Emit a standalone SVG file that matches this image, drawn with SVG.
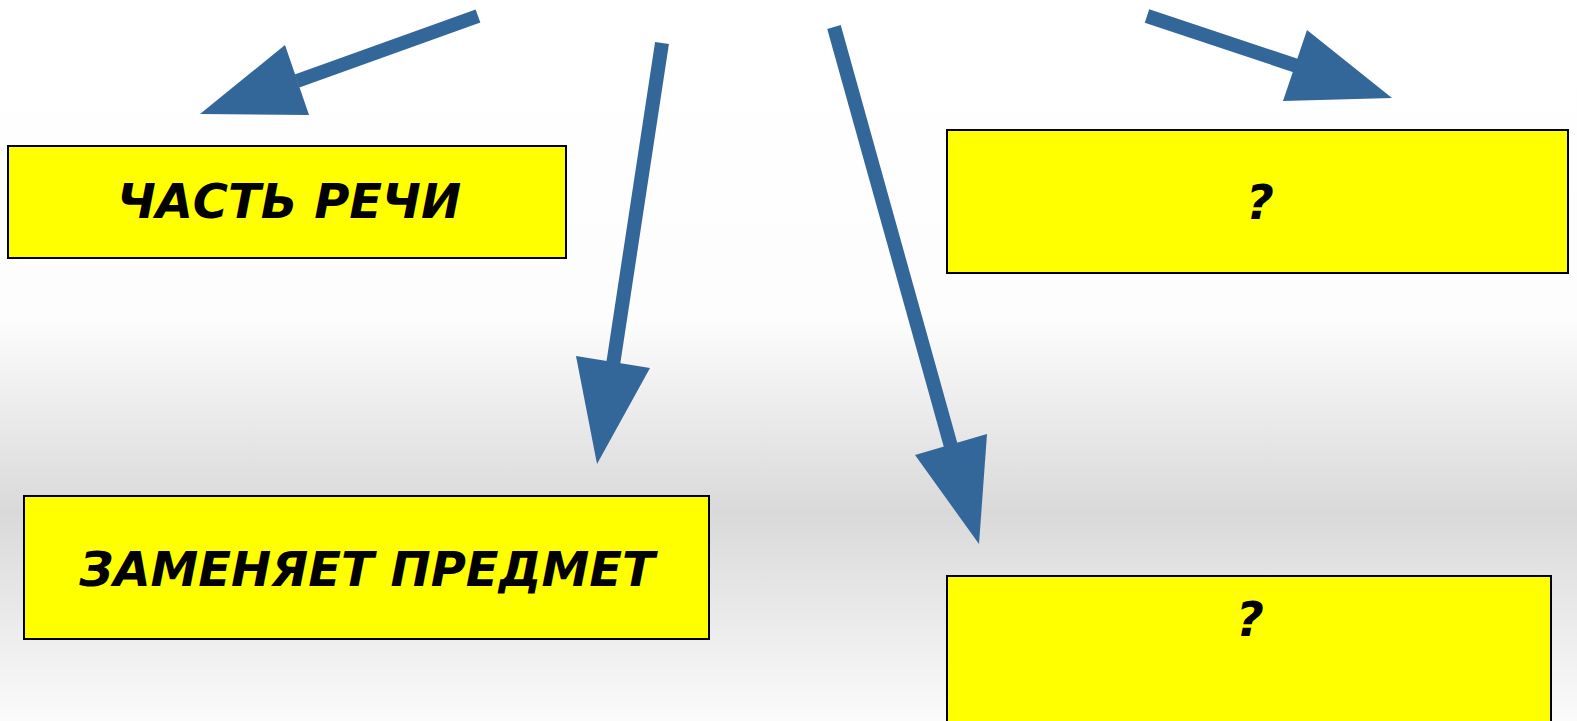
<svg xmlns="http://www.w3.org/2000/svg" width="1577" height="721" viewBox="0 0 1577 721">
<defs>
<linearGradient id="bg" x1="0" y1="0" x2="0" y2="1">
<stop offset="0" stop-color="#ffffff"/>
<stop offset="0.44" stop-color="#fdfdfd"/>
<stop offset="0.71" stop-color="#d9d9d9"/>
<stop offset="1" stop-color="#fbfbfb"/>
</linearGradient>
<style>
.box{fill:#ffff00;stroke:#000;stroke-width:2}
.lbl{font-family:"DejaVu Sans",sans-serif;font-weight:bold;font-style:italic;font-size:48px;fill:#000;text-anchor:middle}
.shaft{stroke:#336699;stroke-width:14;fill:none}
.head{fill:#336699}
</style>
</defs>
<rect x="0" y="0" width="1577" height="721" fill="url(#bg)"/>
<g id="connectors">
<line class="shaft" x1="478" y1="16" x2="297" y2="81"/>
<polygon class="head" points="200,114 285,45 309,115"/>
<line class="shaft" x1="662" y1="43" x2="613" y2="365"/>
<polygon class="head" points="576,356 650,368 597,464"/>
<line class="shaft" x1="834" y1="27" x2="952" y2="450"/>
<polygon class="head" points="915,455 987,434 979,544"/>
<line class="shaft" x1="1147" y1="16" x2="1300" y2="67"/>
<polygon class="head" points="1307,30 1283,101 1392,98"/>
</g>
<g id="node-part">
<rect class="box" x="8" y="146" width="558" height="112"/>
<text class="lbl" x="289" y="218">ЧАСТЬ РЕЧИ</text>
</g>
<g id="node-q1">
<rect class="box" x="947" y="130" width="621" height="143"/>
<text class="lbl" x="1260" y="219">?</text>
</g>
<g id="node-replace">
<rect class="box" x="24" y="496" width="685" height="143"/>
<text class="lbl" x="367" y="586">ЗАМЕНЯЕТ ПРЕДМЕТ</text>
</g>
<g id="node-q2">
<rect class="box" x="947" y="576" width="604" height="160"/>
<text class="lbl" x="1250" y="636">?</text>
</g>
</svg>
